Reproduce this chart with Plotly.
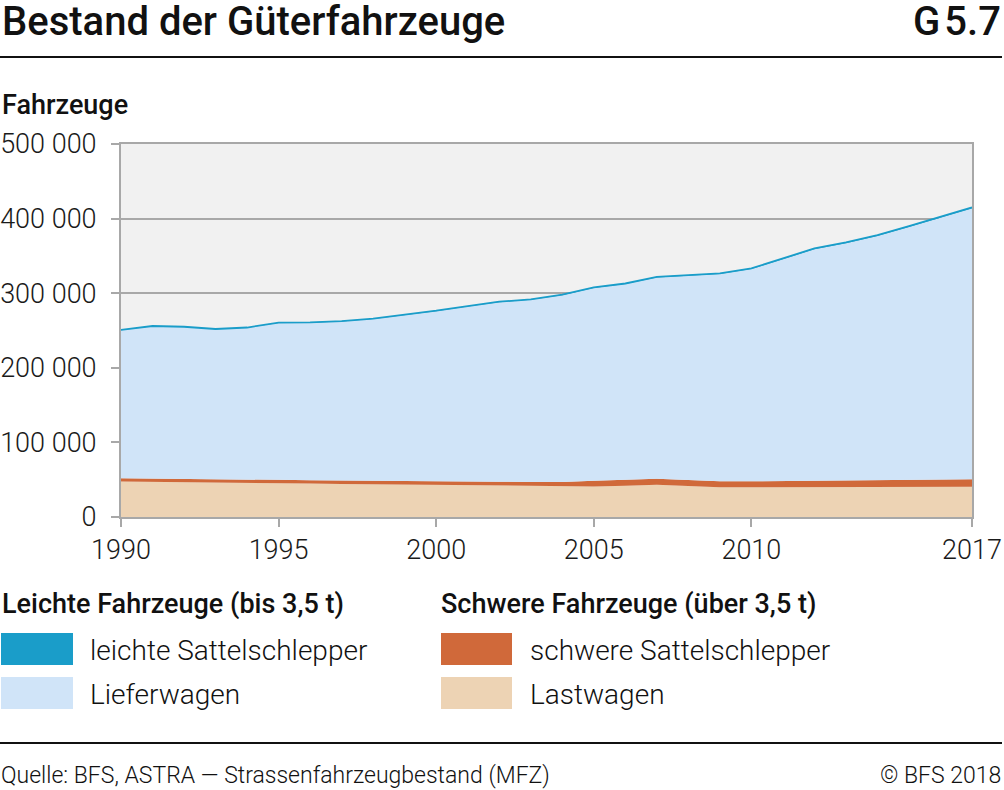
import plotly.graph_objects as go

years = list(range(1990, 2018))

lastwagen = [47500, 47200, 46500, 45800, 45500, 45300, 44800, 44400, 44000, 43600,
             42800, 42200, 41600, 41000, 40600, 41000, 42000, 43200, 41500, 40000,
             39800, 40000, 40300, 40300, 40400, 40500, 40600, 40700]
schwere_sattel = [4300, 4400, 4500, 4600, 4600, 4500, 4600, 4800, 5000, 5200,
                  5300, 5500, 5700, 5900, 6200, 7600, 7800, 8000, 8000, 8000,
                  8000, 8300, 8600, 8800, 9000, 9300, 9500, 9800]
lieferwagen = [198500, 204000, 203600, 201200, 203500, 210200, 211100, 213000, 216300, 221600,
               227800, 234500, 240600, 244200, 250500, 258500, 262400, 269900, 274000, 277600,
               284500, 297300, 309900, 317700, 327200, 338800, 351000, 362900]
leichte_sattel = [400, 400, 400, 400, 400, 500, 500, 500, 500, 600,
                  600, 600, 700, 700, 700, 800, 800, 900, 900, 1000,
                  1000, 1100, 1200, 1200, 1300, 1400, 1500, 1600]

x_ticks = [1990, 1995, 2000, 2005, 2010, 2017]
y_ticks = [0, 100000, 200000, 300000, 400000, 500000]
y_ticktext = ["0", "100 000", "200 000", "300 000", "400 000", "500 000"]

C_DARK = "#1a9dc9"
C_LIGHT = "#d0e4f8"
C_ORANGE = "#d0693a"
C_BEIGE = "#edd3b4"

W, H = 1004, 790
L, R, T, B = 121, 972, 144, 517

def px(x):
    return (x - L) / (R - L)

def py(y):
    return (B - y) / (B - T)

fig = go.Figure()
fig.add_trace(go.Scatter(x=years, y=lastwagen, stackgroup="s", mode="lines",
                         line=dict(width=0, color=C_BEIGE), fillcolor=C_BEIGE, name="Lastwagen"))
fig.add_trace(go.Scatter(x=years, y=schwere_sattel, stackgroup="s", mode="lines",
                         line=dict(width=0, color=C_ORANGE), fillcolor=C_ORANGE, name="schwere Sattelschlepper"))
fig.add_trace(go.Scatter(x=years, y=lieferwagen, stackgroup="s", mode="lines",
                         line=dict(width=0, color=C_LIGHT), fillcolor=C_LIGHT, name="Lieferwagen"))
fig.add_trace(go.Scatter(x=years, y=leichte_sattel, stackgroup="s", mode="lines",
                         line=dict(width=1.8, color=C_DARK), fillcolor=C_DARK, name="leichte Sattelschlepper"))

AX = "#a8a8a8"
TICKFONT = dict(size=27, family="Roboto", weight=300, color="#1a1a1a")
fig.update_layout(
    template="none",
    width=W, height=H, autosize=False,
    margin=dict(l=L, r=W - R, t=T, b=H - B, pad=0, autoexpand=False),
    paper_bgcolor="white", plot_bgcolor="#f1f1f1",
    showlegend=False, hovermode=False,
    font=dict(family="Roboto", color="#1a1a1a", size=25, weight=300),
    xaxis=dict(range=[1990, 2017], tickvals=x_ticks, ticktext=[str(v) for v in x_ticks],
               showgrid=False, zeroline=False, showline=True, linecolor=AX, linewidth=2,
               mirror=True, ticks="outside", ticklen=8, tickwidth=2, tickcolor=AX,
               ticklabelstandoff=0, tickfont=TICKFONT, automargin=False),
    yaxis=dict(range=[0, 500000], tickvals=y_ticks, ticktext=y_ticktext,
               showgrid=True, gridcolor=AX, gridwidth=2, zeroline=False,
               showline=True, linecolor=AX, linewidth=2, mirror=True,
               ticks="outside", ticklen=8, tickwidth=2, tickcolor=AX,
               ticklabelstandoff=9, tickfont=TICKFONT, automargin=False),
)

shapes = [
    dict(type="line", xref="paper", yref="paper", x0=px(0), x1=px(1002), y0=py(57), y1=py(57),
         line=dict(color="#111", width=2)),
    dict(type="line", xref="paper", yref="paper", x0=px(0), x1=px(1002), y0=py(743), y1=py(743),
         line=dict(color="#111", width=2)),
]
legend_boxes = [
    (1, 73, 633, 665, C_DARK), (1, 73, 677, 709, C_LIGHT),
    (441, 512, 633, 665, C_ORANGE), (441, 512, 677, 709, C_BEIGE),
]
for x0, x1, y0, y1, c in legend_boxes:
    shapes.append(dict(type="rect", xref="paper", yref="paper", x0=px(x0), x1=px(x1),
                       y0=py(y1), y1=py(y0), fillcolor=c, line=dict(width=0)))
fig.update_layout(shapes=shapes)

def ann(text, x, y, size, weight=300, xanchor="left"):
    fig.add_annotation(text=text, xref="paper", yref="paper", x=px(x), y=py(y),
                       xanchor=xanchor, yanchor="middle", showarrow=False,
                       font=dict(family="Roboto", size=size, weight=weight, color="#111"))

ann("Bestand der Güterfahrzeuge", 0, 21, 40, 500)
ann("G\u200a5.7", 1003, 21, 40, 500, "right")
ann("Fahrzeuge", 0, 105, 27, 500)
ann("Leichte Fahrzeuge (bis 3,5 t)", 0, 604, 27, 500)
ann("Schwere Fahrzeuge (über 3,5 t)", 439, 604, 27, 500)
ann("leichte Sattelschlepper", 88, 650, 28)
ann("Lieferwagen", 88, 694, 28)
ann("schwere Sattelschlepper", 528, 650, 28)
ann("Lastwagen", 528, 694, 28)
ann("Quelle: BFS, ASTRA — Strassenfahrzeugbestand (MFZ)", -1, 775, 23)
ann("© BFS 2018", 1003, 775, 23, 300, "right")

fig.write_html("out.html",
               config={"displayModeBar": False, "responsive": False, "staticPlot": True},
               post_script="document.body.style.margin='0';document.body.style.overflow='hidden';")
